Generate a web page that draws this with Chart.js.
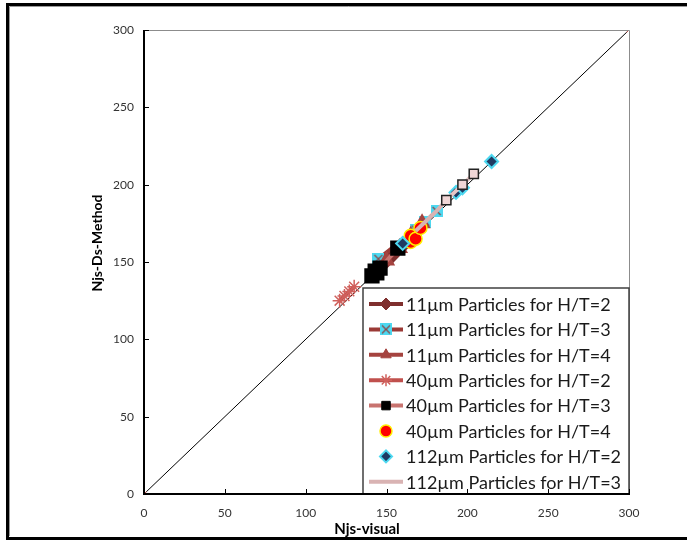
<!DOCTYPE html>
<html>
<head>
<meta charset="utf-8">
<script src="https://cdn.jsdelivr.net/npm/chart.js@4/dist/chart.umd.min.js"></script>
<style>
  body { margin: 0; background: #fff; }
</style>
</head>
<body>
<canvas id="myChart" width="687" height="542"></canvas>
<script>
// axis ticks
const tickVals = [0, 50, 100, 150, 200, 250, 300];

// y = x reference line
const diagX = [0, 300];
const diagY = [0, 300];

// 11um particles
const p11ht2X = [147, 153, 160, 166];
const p11ht2Y = [148, 154, 161, 166];
const p11ht3X = [145, 168, 174, 181];
const p11ht3Y = [152, 171, 176, 183];
const p11ht4X = [150, 158, 165, 172];
const p11ht4Y = [151, 159, 167, 175];

// 40um particles
const p40ht2X = [121, 124, 127, 130];
const p40ht2Y = [125, 128, 131, 134];
const p40ht3X = [141, 143, 144, 146, 157];
const p40ht3Y = [141, 144, 143, 146, 159];
const p40ht4X = [165, 165, 168, 171];
const p40ht4Y = [163, 167, 165, 172];

// 112um particles
const p112ht2X = [160, 193, 197, 215];
const p112ht2Y = [162, 195, 198, 215];
const p112ht3X = [168, 175, 181, 187];
const p112ht3Y = [170, 177, 183, 190];
// series whose legend entry is cut off in the original
const p112ht4X = [187, 197, 204];
const p112ht4Y = [190, 200, 207];

function zip(xs, ys) {
	return xs.map((x, i) => ({ x: x, y: ys[i] }));
}

// cyan square with an x in it
const xBox = document.createElement('canvas');
xBox.width = 12;
xBox.height = 12;
(function () {
	const c = xBox.getContext('2d');
	c.fillStyle = '#4dd8f0';
	c.fillRect(0, 0, 12, 12);
	c.strokeStyle = '#8a4a4a';
	c.lineWidth = 1.3;
	c.beginPath();
	c.moveTo(2, 2); c.lineTo(10, 10);
	c.moveTo(10, 2); c.lineTo(2, 10);
	c.stroke();
})();

const datasets = [
	{
		label: '11\u00b5m Particles for H/T=2',
		data: zip(p11ht2X, p11ht2Y),
		showLine: true,
		borderColor: '#7f2f2e',
		borderWidth: 4,
		pointStyle: 'rectRot',
		pointRadius: 6,
		pointBackgroundColor: '#7f2f2e',
		pointBorderColor: '#7f2f2e',
	},
	{
		label: '11\u00b5m Particles for H/T=3',
		data: zip(p11ht3X, p11ht3Y),
		showLine: true,
		borderColor: '#9b3a36',
		borderWidth: 4,
		pointStyle: xBox,
		pointRadius: 6,
	},
	{
		label: '11\u00b5m Particles for H/T=4',
		data: zip(p11ht4X, p11ht4Y),
		showLine: true,
		borderColor: '#a5433f',
		borderWidth: 4,
		pointStyle: 'triangle',
		pointRadius: 6,
		pointBackgroundColor: '#a5433f',
		pointBorderColor: '#a5433f',
	},
	{
		label: '40\u00b5m Particles for H/T=2',
		data: zip(p40ht2X, p40ht2Y),
		showLine: true,
		borderColor: '#c0504d',
		borderWidth: 4,
		pointStyle: 'star',
		pointRadius: 7,
		pointBorderWidth: 1.5,
		pointBorderColor: '#d0605c',
	},
	{
		label: '40\u00b5m Particles for H/T=3',
		data: zip(p40ht3X, p40ht3Y),
		showLine: true,
		borderColor: '#c8736f',
		borderWidth: 4,
		pointStyle: 'rect',
		pointRadius: 8,
		pointBackgroundColor: '#000',
		pointBorderColor: '#000',
	},
	{
		label: '40\u00b5m Particles for H/T=4',
		data: zip(p40ht4X, p40ht4Y),
		showLine: false,
		pointStyle: 'circle',
		pointRadius: 6.5,
		pointBorderWidth: 1.5,
		pointBackgroundColor: '#ff0000',
		pointBorderColor: '#ffee00',
	},
	{
		label: '112\u00b5m Particles for H/T=2',
		data: zip(p112ht2X, p112ht2Y),
		showLine: false,
		pointStyle: 'rectRot',
		pointRadius: 6.5,
		pointBorderWidth: 2,
		pointBackgroundColor: '#1f3b63',
		pointBorderColor: '#4dd8f0',
	},
	{
		label: '112\u00b5m Particles for H/T=3',
		data: zip(p112ht3X, p112ht3Y),
		showLine: true,
		borderColor: '#d9b3b3',
		borderWidth: 4,
		pointRadius: 0,
	},
	{
		label: '112\u00b5m Particles for H/T=4',
		data: zip(p112ht4X, p112ht4Y),
		showLine: true,
		borderColor: '#e6c6c6',
		borderWidth: 4,
		pointStyle: 'rect',
		pointRadius: 6.5,
		pointBorderWidth: 1.5,
		pointBackgroundColor: '#f0d6d6',
		pointBorderColor: '#222',
		inLegend: false,
	},
	{
		label: 'y=x',
		data: zip(diagX, diagY),
		showLine: true,
		borderColor: '#000',
		borderWidth: 1,
		pointStyle: 'crossRot',
		pointRadius: 3.5,
		pointBorderWidth: 1,
		pointBorderColor: '#c0504d',
		inLegend: false,
	},
];
// later series drawn on top, like the original
datasets.forEach((d, i) => {
	d.order = datasets.length - i;
});
datasets[datasets.length - 1].order = 100;

const frameAndLegend = {
	id: 'frameAndLegend',
	afterDraw(chart) {
		const ctx = chart.ctx;
		const a = chart.chartArea;
		const xs = chart.scales.x;
		const ys = chart.scales.y;
		ctx.save();

		// plot frame (top/right thin grey)
		ctx.strokeStyle = '#8c8c8c';
		ctx.lineWidth = 1;
		ctx.beginPath();
		ctx.moveTo(a.left, a.top + 0.5);
		ctx.lineTo(a.right + 0.5, a.top + 0.5);
		ctx.lineTo(a.right + 0.5, a.bottom);
		ctx.stroke();

		// legend box
		const lw = 266, lh = 206;
		const lx = a.right - lw, ly = a.bottom - lh;
		ctx.fillStyle = '#fff';
		ctx.fillRect(lx, ly, lw, lh);
		ctx.strokeStyle = '#404040';
		ctx.lineWidth = 1.5;
		ctx.strokeRect(lx, ly, lw, lh);

		const draw = Chart.helpers && Chart.helpers.drawPoint;
		const items = chart.data.datasets.filter((d) => d.inLegend !== false);
		ctx.font = '18px Lato';
		ctx.textBaseline = 'middle';
		items.forEach((d, i) => {
			const ry = ly + 16 + i * 25.4;
			if (d.showLine) {
				ctx.strokeStyle = d.borderColor;
				ctx.lineWidth = 4;
				ctx.beginPath();
				ctx.moveTo(lx + 6, ry);
				ctx.lineTo(lx + 40, ry);
				ctx.stroke();
			}
			if (d.pointRadius > 0 && draw) {
				ctx.fillStyle = d.pointBackgroundColor || '#000';
				ctx.strokeStyle = d.pointBorderColor || d.pointBackgroundColor || '#000';
				ctx.lineWidth = d.pointBorderWidth || 1;
				draw(ctx, {
					pointStyle: d.pointStyle,
					rotation: 0,
					radius: Math.min(d.pointRadius, 6),
					borderWidth: d.pointBorderWidth || 1,
				}, lx + 23, ry);
			}
			ctx.fillStyle = '#1a1a1a';
			ctx.fillText(d.label, lx + 43, ry + 1);
		});

		// axis lines
		ctx.strokeStyle = '#000';
		ctx.lineWidth = 2;
		ctx.beginPath();
		ctx.moveTo(a.left, a.top);
		ctx.lineTo(a.left, a.bottom);
		ctx.lineTo(a.right + 1, a.bottom);
		ctx.stroke();

		// inward tick marks
		ctx.lineWidth = 1;
		ctx.beginPath();
		tickVals.forEach((v) => {
			const px = Math.round(xs.getPixelForValue(v)) + 0.5;
			ctx.moveTo(px, a.bottom);
			ctx.lineTo(px, a.bottom - 5);
			const py = Math.round(ys.getPixelForValue(v)) + 0.5;
			ctx.moveTo(a.left, py);
			ctx.lineTo(a.left + 5, py);
		});
		ctx.stroke();

		// axis titles
		ctx.fillStyle = '#000';
		ctx.font = 'bold 15px Lato';
		ctx.textAlign = 'center';
		ctx.textBaseline = 'middle';
		ctx.fillText('Njs-visual', a.left + 223, 529);
		ctx.font = 'bold 14px Lato';
		ctx.translate(97, a.top + 213);
		ctx.rotate(-Math.PI / 2);
		ctx.fillText('Njs-Ds-Method', 0, 0);
		ctx.restore();

		// outer picture frame
		ctx.save();
		ctx.strokeStyle = '#000';
		ctx.lineWidth = 3;
		ctx.strokeRect(7.5, 4.5, 700, 534);
		ctx.strokeStyle = '#9a9a9a';
		ctx.lineWidth = 1;
		ctx.beginPath();
		ctx.moveTo(9.5, 536);
		ctx.lineTo(9.5, 6.5);
		ctx.lineTo(700, 6.5);
		ctx.stroke();
		ctx.restore();
	},
};

const tickFont = { family: 'Lato', size: 12 };

var ctx = document.getElementById('myChart').getContext('2d');
myChart = new Chart(ctx, {
	type: 'scatter',
	data: { datasets: datasets },
	options: {
		responsive: false,
		animation: false,
		layout: { padding: { top: 30, right: 58, left: 0, bottom: 0 } },
		plugins: { legend: { display: false }, tooltip: { enabled: false } },
		scales: {
			x: {
				type: 'linear',
				min: 0,
				max: 300,
				afterBuildTicks: (s) => { s.ticks = tickVals.map((v) => ({ value: v })); },
				afterFit: (s) => { s.height = 48; },
				ticks: { font: tickFont, color: '#333', padding: 12 },
				grid: { display: false, drawTicks: false },
				border: { display: false },
			},
			y: {
				type: 'linear',
				min: 0,
				max: 300,
				afterBuildTicks: (s) => { s.ticks = tickVals.map((v) => ({ value: v })); },
				afterFit: (s) => { s.width = 144; },
				ticks: { font: tickFont, color: '#333', padding: 10 },
				grid: { display: false, drawTicks: false },
				border: { display: false },
			},
		},
	},
	plugins: [frameAndLegend],
});
</script>
</body>
</html>
